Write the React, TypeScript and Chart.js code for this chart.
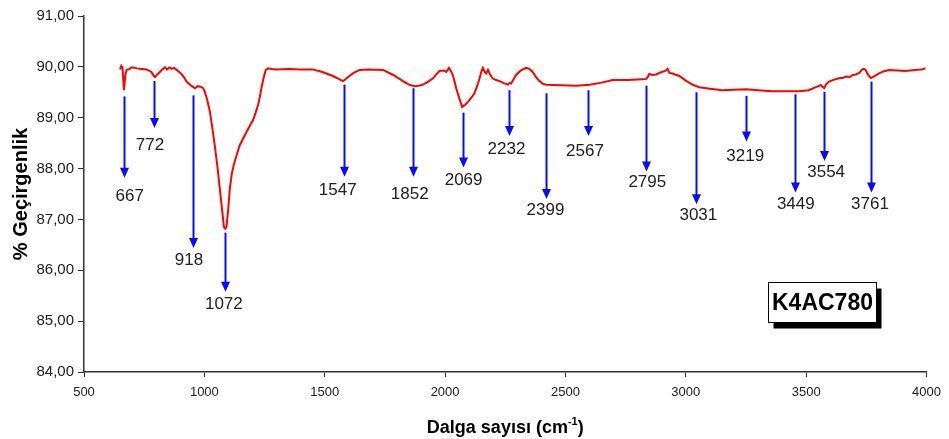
import React, { useEffect, useRef } from 'react';
import { Chart, registerables } from 'chart.js';

Chart.register(...registerables);

// Spectrum (wavenumber, cm-1) and % transmittance
const wavenumbers = [
  650, 655, 660, 666, 672, 677, 690, 698, 720, 740, 760, 780, 790, 795, 802, 815, 825, 836, 845, 855,
  865, 875, 885, 900, 915, 926, 945, 961, 972, 984, 995, 1002, 1012, 1023, 1033, 1043, 1054, 1064, 1074, 1081,
  1087, 1092, 1099, 1106, 1114, 1122, 1135, 1147, 1160, 1175, 1190, 1202, 1213, 1223, 1230, 1237, 1246, 1255, 1265, 1280,
  1300, 1350, 1400, 1451, 1490, 1534, 1560, 1576, 1585, 1597, 1620, 1645, 1680, 1742, 1785, 1825, 1850, 1873, 1890, 1908,
  1930, 1949, 1965, 1977, 1995, 2005, 2016, 2024, 2032, 2040, 2046, 2058, 2071, 2082, 2095, 2110, 2122, 2133, 2143, 2150,
  2157, 2164, 2171, 2178, 2188, 2198, 2212, 2226, 2245, 2261, 2268, 2274, 2285, 2295, 2315, 2337, 2350, 2364, 2378, 2392,
  2405, 2420, 2480, 2544, 2600, 2650, 2696, 2760, 2835, 2842, 2848, 2862, 2876, 2900, 2915, 2924, 2932, 2945, 2955, 2973,
  3000, 3028, 3056, 3100, 3153, 3200, 3250, 3300, 3360, 3420, 3471, 3510, 3540, 3561, 3568, 3575, 3582, 3595, 3610, 3625,
  3640, 3651, 3665, 3680, 3694, 3706, 3720, 3733, 3740, 3747, 3755, 3768, 3780, 3803, 3820, 3844, 3880, 3913, 3950, 3980,
  3996,
];
const transmittance = [
  89.95, 90.02, 89.98, 89.54, 89.85, 89.94, 89.96, 89.99, 89.97, 89.96, 89.95, 89.9, 89.82, 89.8, 89.84, 89.9, 89.95, 89.99, 89.95, 89.99,
  89.96, 89.98, 89.94, 89.88, 89.8, 89.71, 89.63, 89.58, 89.62, 89.61, 89.58, 89.51, 89.35, 89.12, 88.8, 88.46, 88.05, 87.61, 87.18, 86.86,
  86.82, 86.86, 87.2, 87.61, 87.9, 88.07, 88.28, 88.46, 88.58, 88.72, 88.85, 88.95, 89.1, 89.25, 89.4, 89.58, 89.78, 89.94, 89.97, 89.96,
  89.95, 89.96, 89.95, 89.95, 89.9, 89.82, 89.76, 89.72, 89.75, 89.8, 89.88, 89.94, 89.95, 89.94, 89.84, 89.72, 89.65, 89.62, 89.63, 89.65,
  89.71, 89.77, 89.86, 89.92, 89.93, 89.9, 89.98, 89.92, 89.84, 89.7, 89.58, 89.4, 89.21, 89.25, 89.31, 89.4, 89.48, 89.62, 89.77, 89.9,
  89.98, 89.9, 89.87, 89.94, 89.84, 89.77, 89.74, 89.72, 89.68, 89.65, 89.68, 89.67, 89.76, 89.84, 89.93, 89.98, 89.96, 89.9, 89.8, 89.72,
  89.67, 89.65, 89.64, 89.63, 89.65, 89.69, 89.74, 89.74, 89.76, 89.8, 89.86, 89.84, 89.85, 89.9, 89.92, 89.96, 89.88, 89.87, 89.85, 89.82,
  89.73, 89.65, 89.6, 89.57, 89.54, 89.55, 89.56, 89.54, 89.52, 89.52, 89.52, 89.54, 89.6, 89.64, 89.61, 89.58, 89.65, 89.71, 89.74, 89.76,
  89.78, 89.78, 89.81, 89.8, 89.84, 89.85, 89.88, 89.95, 89.96, 89.94, 89.86, 89.78, 89.81, 89.87, 89.91, 89.94, 89.93, 89.92, 89.94, 89.95,
  89.97,
];

// Peak annotations
const peakLabels = ['667', '772', '918', '1072', '1547', '1852', '2069', '2232', '2399', '2567', '2795', '3031', '3219', '3449', '3554', '3761'];
const arrowX = [667, 790, 951, 1085, 1580, 1868, 2075, 2265, 2420, 2592, 2836, 3043, 3248, 3455, 3576, 3769];
const arrowTop = [89.42, 89.72, 89.44, 86.74, 89.65, 89.58, 89.1, 89.54, 89.48, 89.54, 89.63, 89.5, 89.43, 89.46, 89.51, 89.71];
const arrowTip = [87.82, 88.8, 86.44, 85.58, 87.84, 87.84, 88.02, 88.64, 87.4, 88.64, 87.94, 87.3, 88.53, 87.53, 88.15, 87.53];
const labelX = [690, 774, 936, 1081, 1554, 1853, 2077, 2255, 2417, 2581, 2840, 3052, 3247, 3457, 3583, 3765];
const labelY = [87.45, 88.46, 86.2, 85.34, 87.58, 87.49, 87.77, 88.38, 87.18, 88.33, 87.72, 87.09, 88.25, 87.3, 87.92, 87.3];

const sampleName = 'K4AC780';
const sampleX = 3566;
const sampleY = 85.38;

const xTitleMain = 'Dalga sayısı (cm';
const xTitleSup = '-1';
const xTitleEnd = ')';
const yTitle = '% Geçirgenlik';

const FONT = '"Liberation Sans", Arial, sans-serif';

const annotatePlugin = {
  id: 'annotate',
  afterDatasetsDraw(chart: any) {
    const { ctx, scales } = chart;
    const xs = scales.x;
    const ys = scales.y;
    ctx.save();
    for (let i = 0; i < peakLabels.length; i++) {
      const px = Math.round(xs.getPixelForValue(arrowX[i])) + 0.5;
      const y1 = ys.getPixelForValue(arrowTop[i]);
      const y2 = ys.getPixelForValue(arrowTip[i]);
      ctx.strokeStyle = '#0a0aff';
      ctx.lineWidth = 2;
      ctx.beginPath();
      ctx.moveTo(px, y1);
      ctx.lineTo(px, y2 - 8);
      ctx.stroke();
      ctx.fillStyle = '#0a0aff';
      ctx.beginPath();
      ctx.moveTo(px - 4.5, y2 - 10);
      ctx.lineTo(px + 4.5, y2 - 10);
      ctx.lineTo(px, y2);
      ctx.closePath();
      ctx.fill();
      ctx.fillStyle = '#222';
      ctx.font = `17px ${FONT}`;
      ctx.textAlign = 'center';
      ctx.textBaseline = 'middle';
      ctx.fillText(peakLabels[i], xs.getPixelForValue(labelX[i]), ys.getPixelForValue(labelY[i]));
    }

    // sample box with shadow
    const cx = xs.getPixelForValue(sampleX);
    const cy = ys.getPixelForValue(sampleY);
    const w = 108;
    const h = 40;
    const bx = Math.round(cx - w / 2) + 0.5;
    const by = Math.round(cy - h / 2) + 0.5;
    ctx.fillStyle = '#000';
    ctx.fillRect(bx + 5, by + 6, w, h);
    ctx.fillStyle = '#fff';
    ctx.fillRect(bx, by, w, h);
    ctx.strokeStyle = '#000';
    ctx.lineWidth = 1;
    ctx.strokeRect(bx, by, w, h);
    ctx.fillStyle = '#000';
    ctx.font = `bold 23px ${FONT}`;
    ctx.textAlign = 'center';
    ctx.textBaseline = 'middle';
    ctx.fillText(sampleName, bx + w / 2, by + h / 2 + 1);

    // x axis title with superscript
    const area = chart.chartArea;
    const mainFont = `bold 18px ${FONT}`;
    const supFont = `bold 11px ${FONT}`;
    ctx.font = mainFont;
    const w1 = ctx.measureText(xTitleMain).width;
    const w3 = ctx.measureText(xTitleEnd).width;
    ctx.font = supFont;
    const w2 = ctx.measureText(xTitleSup).width;
    const total = w1 + w2 + w3;
    let tx = (area.left + area.right) / 2 - total / 2;
    const baseY = 433;
    ctx.textAlign = 'left';
    ctx.textBaseline = 'alphabetic';
    ctx.fillStyle = '#000';
    ctx.font = mainFont;
    ctx.fillText(xTitleMain, tx, baseY);
    tx += w1;
    ctx.font = supFont;
    ctx.fillText(xTitleSup, tx, baseY - 8);
    tx += w2;
    ctx.font = mainFont;
    ctx.fillText(xTitleEnd, tx, baseY);
    ctx.restore();
  },
};

export default function App() {
  const canvasRef = useRef<HTMLCanvasElement | null>(null);

  useEffect(() => {
    document.body.style.margin = '0';
    const canvas = canvasRef.current;
    if (!canvas) return;
    const data = wavenumbers.map((x, i) => ({ x, y: transmittance[i] }));
    const chart = new Chart(canvas, {
      type: 'line',
      data: {
        datasets: [
          {
            data,
            borderColor: '#ff0000',
            borderWidth: 2,
            pointRadius: 0,
            tension: 0,
            fill: false,
          },
        ],
      },
      options: {
        responsive: false,
        animation: false,
        layout: { padding: { top: 16, right: 22, left: 0, bottom: 0 } },
        plugins: { legend: { display: false }, tooltip: { enabled: false } },
        scales: {
          x: {
            type: 'linear',
            min: 500,
            max: 4000,
            afterFit: (s: any) => {
              s.height = 67;
            },
            ticks: {
              stepSize: 500,
              color: '#222',
              font: { family: FONT, size: 13 },
              padding: 8,
              maxRotation: 0,
              callback: (v: any) => String(v),
            },
            grid: { drawOnChartArea: false, tickLength: 5, color: '#333' },
            border: { color: '#333', width: 1.5 },
          },
          y: {
            type: 'linear',
            min: 84,
            max: 91,
            afterFit: (s: any) => {
              s.width = 84;
            },
            ticks: {
              stepSize: 1,
              color: '#222',
              font: { family: FONT, size: 15 },
              padding: 4,
              callback: (v: any) => Number(v).toFixed(2).replace('.', ','),
            },
            grid: { drawOnChartArea: false, tickLength: 6, color: '#333' },
            border: { color: '#333', width: 1.5 },
            title: {
              display: true,
              text: yTitle,
              color: '#000',
              font: { family: FONT, size: 20, weight: 'bold' },
              padding: { top: 9, bottom: 0 },
            },
          },
        },
      },
      plugins: [annotatePlugin],
    });
    return () => chart.destroy();
  }, []);

  return (
    <div style={{ width: 949, height: 439, background: '#fff' }}>
      <canvas ref={canvasRef} width={949} height={439} style={{ display: 'block' }} />
    </div>
  );
}
